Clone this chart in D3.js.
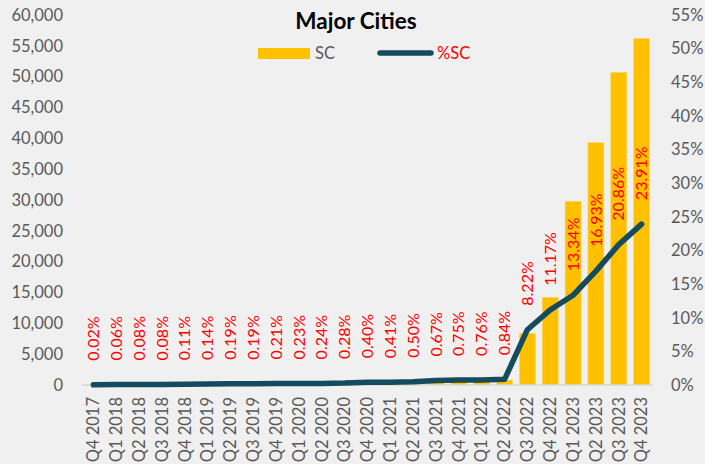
<!DOCTYPE html>
<html>
<head>
<meta charset="utf-8">
<script src="https://cdn.jsdelivr.net/npm/d3@7"></script>
<style>
  body { margin: 0; background: #f0f0f0; }
  text { font-family: Lato, "Open Sans", sans-serif; }
</style>
</head>
<body>
<div id="chart"></div>
<script>
// quarters on the x axis
var quarters = ["Q4 2017",
  "Q1 2018", "Q2 2018", "Q3 2018", "Q4 2018",
  "Q1 2019", "Q2 2019", "Q3 2019", "Q4 2019",
  "Q1 2020", "Q2 2020", "Q3 2020", "Q4 2020",
  "Q1 2021", "Q2 2021", "Q3 2021", "Q4 2021",
  "Q1 2022", "Q2 2022", "Q3 2022", "Q4 2022",
  "Q1 2023", "Q2 2023", "Q3 2023", "Q4 2023"];

// SC count (bars, left axis)
var scCount = [20, 50, 70, 70, 100, 120, 160, 170, 180, 200, 210, 240, 340,
  350, 420, 550, 620, 640, 810, 8380, 14220, 29800, 39300, 50700, 56200];

// %SC (line, right axis)
var scShare = [0.02, 0.06, 0.08, 0.08, 0.11, 0.14, 0.19, 0.19, 0.21, 0.23, 0.24, 0.28, 0.40,
  0.41, 0.50, 0.67, 0.75, 0.76, 0.84, 8.22, 11.17, 13.34, 16.93, 20.86, 23.91];

var leftTicks = [0, 5000, 10000, 15000, 20000, 25000, 30000, 35000, 40000, 45000, 50000, 55000, 60000];
var rightTicks = [0, 5, 10, 15, 20, 25, 30, 35, 40, 45, 50, 55];

var data = quarters.map(function(q, i) {
    return {q: q, count: scCount[i], share: scShare[i]};
});

var outerWidth = 705, outerHeight = 464;
var margin = {top: 15, right: 52, bottom: 79, left: 82};
var width = outerWidth - margin.left - margin.right,
    height = outerHeight - margin.top - margin.bottom;

var svg = d3.select("#chart")
    .append("svg")
    .attr("width", outerWidth)
    .attr("height", outerHeight);

svg.append("rect")
    .attr("width", outerWidth)
    .attr("height", outerHeight)
    .style("fill", "#f0f0f0");

var g = svg.append("g")
    .attr("transform", "translate(" + margin.left + "," + margin.top + ")");

var x = d3.scaleBand()
    .domain(quarters)
    .range([0, width])
    .paddingInner(0.3)
    .paddingOuter(0.15);

var y = d3.scaleLinear()
    .domain([0, 60000])
    .range([height, 0]);

var y2 = d3.scaleLinear()
    .domain([0, 55])
    .range([height, 0]);

// left axis
var yAxis = d3.axisLeft(y)
    .tickValues(leftTicks)
    .tickSize(0)
    .tickPadding(19)
    .tickFormat(d3.format(","));

var yAxisGroup = g.append("g")
    .attr("class", "y-axis")
    .call(yAxis);

// right axis
var y2Axis = d3.axisRight(y2)
    .tickValues(rightTicks)
    .tickSize(0)
    .tickPadding(18)
    .tickFormat(function(d) { return d + "%"; });

var y2AxisGroup = g.append("g")
    .attr("class", "y2-axis")
    .attr("transform", "translate(" + width + ",0)")
    .call(y2Axis);

// bottom axis
var xAxis = d3.axisBottom(x).tickSize(0).tickPadding(0);

var xAxisGroup = g.append("g")
    .attr("class", "x-axis")
    .attr("transform", "translate(0," + height + ")")
    .call(xAxis);

xAxisGroup.selectAll("text")
    .attr("transform", "translate(0,12) rotate(-90)")
    .attr("x", 0)
    .attr("y", 0)
    .attr("dy", "0.35em")
    .style("text-anchor", "end");

g.selectAll(".domain").remove();

g.selectAll(".y-axis text, .y2-axis text, .x-axis text")
    .style("font-family", "Lato, sans-serif")
    .style("font-size", "16.5px")
    .style("fill", "#595959");

// bars
g.selectAll(".bar")
    .data(data)
    .enter().append("rect")
    .attr("class", "bar")
    .attr("x", function(d) { return x(d.q); })
    .attr("y", function(d) { return y(d.count); })
    .attr("width", x.bandwidth())
    .attr("height", function(d) { return height - y(d.count); })
    .style("fill", "#ffc000")
    .style("stroke", "#ffd966")
    .style("stroke-width", 0.6);

// baseline
g.append("line")
    .attr("x1", 0)
    .attr("x2", width)
    .attr("y1", height)
    .attr("y2", height)
    .style("stroke", "#d9d9d9")
    .style("stroke-width", 1.5);

// %SC line
var line = d3.line()
    .x(function(d) { return x(d.q) + x.bandwidth() / 2; })
    .y(function(d) { return y2(d.share); });

g.append("path")
    .attr("class", "linePath")
    .attr("d", line(data))
    .style("fill", "none")
    .style("stroke", "#154b5e")
    .style("stroke-width", 5.5)
    .style("stroke-linecap", "round")
    .style("stroke-linejoin", "round");

// percentage labels
g.selectAll(".pctLabel")
    .data(data)
    .enter().append("text")
    .attr("class", "pctLabel")
    .attr("transform", function(d) {
        return "translate(" + (x(d.q) + x.bandwidth() / 2) + "," + (y2(d.share) - 24) + ") rotate(-90)";
    })
    .attr("dy", "0.35em")
    .style("text-anchor", "start")
    .style("font-size", "16px")
    .style("fill", "#ff0000")
    .text(function(d) { return d.share.toFixed(2) + "%"; });

// title
svg.append("text")
    .attr("x", 356)
    .attr("y", 29)
    .style("text-anchor", "middle")
    .style("font-size", "22.5px")
    .style("font-weight", "bold")
    .style("fill", "#000")
    .text("Major Cities");

// legend
var legend = svg.append("g").attr("class", "legend");

legend.append("rect")
    .attr("x", 258)
    .attr("y", 48)
    .attr("width", 52)
    .attr("height", 11)
    .style("fill", "#ffc000");

legend.append("text")
    .attr("x", 315)
    .attr("y", 59)
    .style("font-size", "16.5px")
    .style("fill", "#595959")
    .text("SC");

legend.append("line")
    .attr("x1", 380)
    .attr("x2", 431)
    .attr("y1", 53)
    .attr("y2", 53)
    .style("stroke", "#154b5e")
    .style("stroke-width", 5.5)
    .style("stroke-linecap", "round");

legend.append("text")
    .attr("x", 437)
    .attr("y", 59)
    .style("font-size", "16.5px")
    .style("fill", "#ff0000")
    .text("%SC");
</script>
</body>
</html>
